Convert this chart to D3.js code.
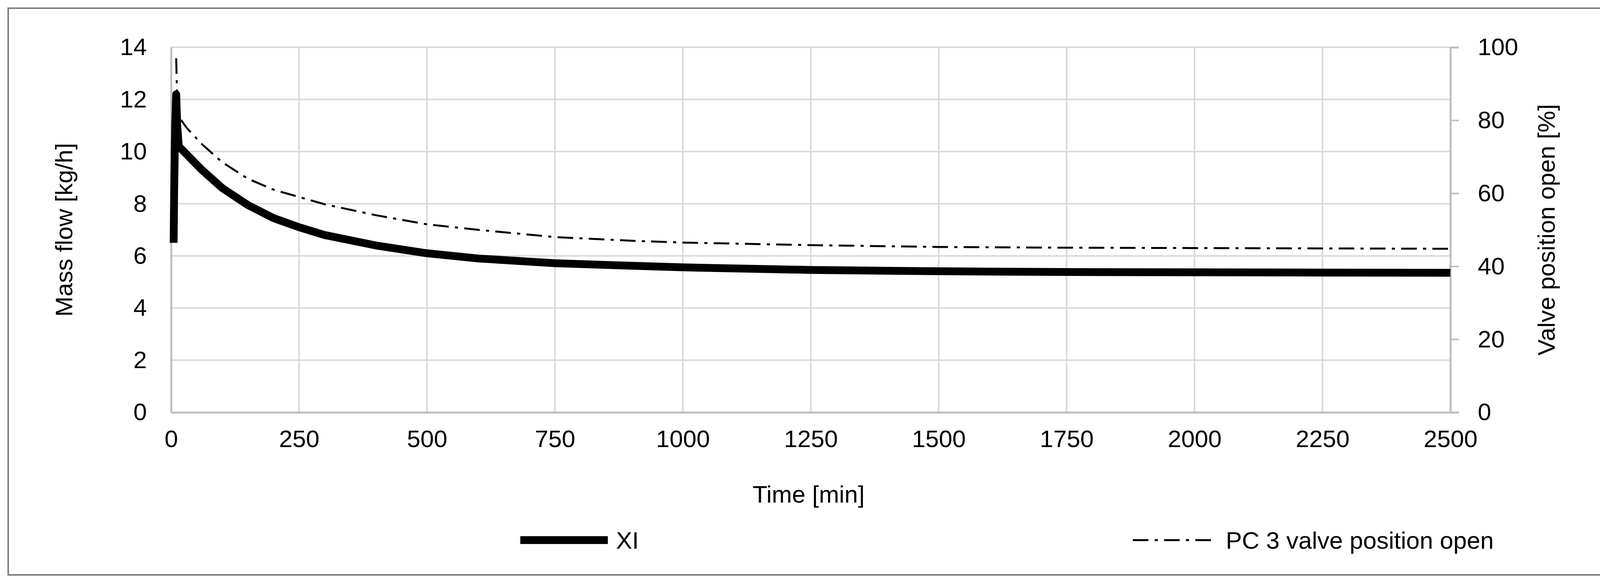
<!DOCTYPE html>
<html>
<head>
<meta charset="utf-8">
<script src="https://cdn.jsdelivr.net/npm/d3@7"></script>
<style>
  body { margin: 0; background: #fff; }
  text { font-family: "Liberation Sans", Arial, sans-serif; fill: #000; }
</style>
</head>
<body>
<svg id="chart" width="4135" height="1502"></svg>
<script>
// values
var xiTime  = [5, 6, 8, 10, 12, 15, 30, 60, 100, 150, 200, 250, 300, 400, 500, 600, 750, 900, 1000, 1250, 1500, 1750, 2000, 2250, 2500];
var xiFlow  = [6.5, 8.5, 11.0, 12.2, 11.0, 10.2, 9.9, 9.3, 8.6, 7.95, 7.45, 7.1, 6.8, 6.4, 6.1, 5.9, 5.72, 5.62, 5.56, 5.46, 5.41, 5.38, 5.37, 5.36, 5.35];
var pcTime  = [10, 12, 15, 30, 60, 100, 150, 200, 250, 300, 400, 500, 600, 750, 900, 1000, 1250, 1500, 1750, 2000, 2250, 2500];
var pcValve = [97, 84, 81, 78, 73.5, 68.5, 64, 61, 59, 57, 54, 51.5, 50, 48, 47, 46.5, 45.8, 45.3, 45.1, 45, 44.9, 44.8];
var xTicks = [0, 250, 500, 750, 1000, 1250, 1500, 1750, 2000, 2250, 2500];
var yTicks = [0, 2, 4, 6, 8, 10, 12, 14];
var y2Ticks = [0, 20, 40, 60, 80, 100];

var svg = d3.select("#chart");
var pLeft = 438, pRight = 3713, pTop = 121, pBottom = 1055;

// outer frame
svg.append("rect").attr("x", 21).attr("y", 21).attr("width", 4098).attr("height", 1450)
    .attr("fill", "none").attr("stroke", "#7f7f7f").attr("stroke-width", 4);

var x = d3.scaleLinear().domain([0, 2500]).range([pLeft, pRight]);
var y = d3.scaleLinear().domain([0, 14]).range([pBottom, pTop]);
var y2 = d3.scaleLinear().domain([0, 100]).range([pBottom, pTop]);

// gridlines
svg.append("g").selectAll("line").data(yTicks).join("line")
    .attr("x1", pLeft).attr("x2", pRight).attr("y1", d => y(d)).attr("y2", d => y(d))
    .attr("stroke", "#d9d9d9").attr("stroke-width", 4);
svg.append("g").selectAll("line").data(xTicks).join("line")
    .attr("y1", pTop).attr("y2", pBottom).attr("x1", d => x(d)).attr("x2", d => x(d))
    .attr("stroke", "#d9d9d9").attr("stroke-width", 4);

// axes
var fs = 62;
var fmt = d3.format("d");
var gx = svg.append("g").attr("transform", "translate(0," + pBottom + ")")
    .call(d3.axisBottom(x).tickValues(xTicks).tickFormat(fmt).tickSize(0).tickPadding(45));
var gy = svg.append("g").attr("transform", "translate(" + pLeft + ",0)")
    .call(d3.axisLeft(y).tickValues(yTicks).tickFormat(fmt).tickSize(0).tickPadding(62));
var gy2 = svg.append("g").attr("transform", "translate(" + pRight + ",0)")
    .call(d3.axisRight(y2).tickValues(y2Ticks).tickFormat(fmt).tickSize(22).tickPadding(48));
[gx, gy, gy2].forEach(function(g) {
    g.selectAll("text").style("font-size", fs + "px").attr("fill", "#000");
    g.select(".domain").attr("stroke", "#bfbfbf").attr("stroke-width", 5);
    g.selectAll(".tick line").attr("stroke", "#bfbfbf").attr("stroke-width", 4);
});

// series
var line = d3.line().x(d => x(d[0])).y(d => d[1]);
svg.append("path")
    .datum(pcTime.map((t, i) => [t, y2(pcValve[i])]))
    .attr("d", line).attr("fill", "none").attr("stroke", "#000")
    .attr("stroke-width", 5).attr("stroke-dasharray", "40,16,8,16");
svg.append("path")
    .datum(xiTime.map((t, i) => [t, y(xiFlow[i])]))
    .attr("d", line).attr("fill", "none").attr("stroke", "#000")
    .attr("stroke-width", 20).attr("stroke-linejoin", "round");

// titles
svg.append("text").attr("x", 2070).attr("y", 1286).attr("text-anchor", "middle")
    .style("font-size", fs + "px").text("Time [min]");
svg.append("text").attr("transform", "translate(185," + ((pTop + pBottom) / 2) + ") rotate(-90)")
    .attr("text-anchor", "middle").style("font-size", fs + "px").text("Mass flow [kg/h]");
svg.append("text").attr("transform", "translate(3980," + ((pTop + pBottom) / 2) + ") rotate(-90)")
    .attr("text-anchor", "middle").style("font-size", fs + "px").text("Valve position open [%]");

// legend
var ly = 1382;
svg.append("line").attr("x1", 1332).attr("x2", 1556).attr("y1", ly).attr("y2", ly)
    .attr("stroke", "#000").attr("stroke-width", 20);
svg.append("text").attr("x", 1577).attr("y", ly + 22).style("font-size", fs + "px").text("XI");
svg.append("line").attr("x1", 2900).attr("x2", 3112).attr("y1", ly).attr("y2", ly)
    .attr("stroke", "#000").attr("stroke-width", 5).attr("stroke-dasharray", "40,16,8,16");
svg.append("text").attr("x", 3138).attr("y", ly + 22).style("font-size", fs + "px").text("PC 3 valve position open");
</script>
</body>
</html>
